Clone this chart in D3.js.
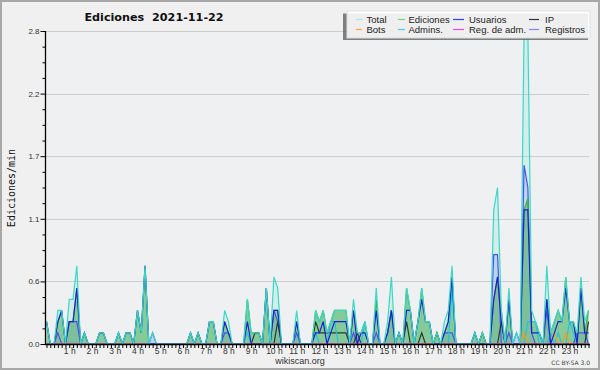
<!DOCTYPE html>
<html><head><meta charset="utf-8">
<script src="https://cdn.jsdelivr.net/npm/d3@7"></script>
<style>html,body{margin:0;padding:0;background:#f0f0f0;}svg{display:block}</style>
</head><body>
<svg id="c" width="600" height="370"></svg>
<script>
// ---- DATA (edits per minute, 10-minute buckets, 6 per hour) ----
const hourLabels = ["1 h","2 h","3 h","4 h","5 h","6 h","7 h","8 h","9 h","10 h","11 h","12 h",
  "13 h","14 h","15 h","16 h","17 h","18 h","19 h","20 h","21 h","22 h","23 h"];
const yTickValues = [0, 0.56, 1.12, 1.68, 2.24, 2.8];
const yTickLabels = ["0.0","0.6","1.1","1.7","2.2","2.8"];
const seriesNames = ["Total","Ediciones","Usuarios","IP","Bots","Admins.","Reg. de adm.","Registros"];

const total = [
  0.2,0,0,0.3,0.3,0,  0.4,0.4,0.7,0,0.1,0,  0,0,0.1,0.1,0,0,  0,0.1,0,0.1,0.1,0,
  0.3,0.1,0.7,0,0.1,0,  0,0,0,0,0,0,  0,0,0.1,0,0.1,0,  0,0.2,0.2,0,0,0.3,
  0.2,0,0,0,0,0.4,  0.1,0.1,0.1,0,0.5,0,  0.6,0.5,0,0,0,0,  0.3,0,0,0,0,0.3,
  0.2,0.3,0.1,0.2,0.3,0.3,  0.3,0.3,0,0.4,0.1,0.1,  0.2,0,0,0.5,0,0,  0.2,0.6,0,0.1,0,0.5,
  0.3,0,0.2,0.5,0.2,0.2,  0,0.1,0,0.2,0.3,0.7,  0,0,0,0,0,0.1,  0,0.1,0,0,1.2,1.4,
  0.3,0,0.5,0,0.1,0,  2.8,2.8,0.3,0.2,0.1,0,  0.7,0.1,0.2,0.3,0.2,0.6,  0.2,0.2,0.1,0.6,0.2,0.3];
const ediciones = [
  0.2,0,0,0.2,0.3,0,  0.2,0.2,0.5,0,0.1,0,  0,0,0.1,0.1,0,0,  0,0.1,0,0.1,0.1,0,
  0.3,0.1,0.7,0,0,0,  0,0,0,0,0,0,  0,0,0.1,0,0.1,0,  0,0.2,0.2,0,0,0.2,
  0.1,0,0,0,0,0.4,  0.1,0.1,0.1,0,0.5,0,  0.3,0.3,0,0,0,0,  0.2,0,0,0,0,0.3,
  0.2,0.3,0.1,0.2,0.3,0.3,  0.3,0.3,0,0.3,0.1,0.1,  0.2,0,0,0.4,0,0,  0.1,0.3,0,0.1,0,0.5,
  0.3,0,0.2,0.5,0.2,0.2,  0,0.1,0,0.1,0.2,0.6,  0,0,0,0,0,0.1,  0,0.1,0,0,0.4,0.6,
  0.3,0,0.4,0,0,0,  1.2,1.3,0.2,0.2,0.1,0,  0.4,0.1,0.2,0.3,0.2,0.6,  0.2,0.2,0,0.5,0.1,0.3];
const usuarios = [
  0.2,0,0,0.2,0.3,0,  0.2,0.2,0.5,0,0.1,0,  0,0,0.1,0.1,0,0,  0,0.1,0,0.1,0.1,0,
  0.3,0.1,0.7,0,0,0,  0,0,0,0,0,0,  0,0,0.1,0,0.1,0,  0,0.2,0.2,0,0,0.2,
  0.1,0,0,0,0,0.2,  0,0,0,0,0.5,0,  0.3,0.3,0,0,0,0,  0.2,0,0,0,0,0.1,
  0.1,0.2,0,0.1,0.2,0.2,  0.2,0.2,0,0.3,0,0.1,  0.1,0,0,0.3,0,0,  0.1,0.3,0,0.1,0,0.3,
  0.3,0,0.2,0.4,0.2,0.2,  0,0,0,0.1,0.2,0.6,  0,0,0,0,0,0.1,  0,0,0,0,0.4,0.6,
  0.2,0,0.4,0,0,0,  1.2,1.2,0.1,0.1,0.1,0,  0.4,0,0.1,0.2,0.2,0.5,  0.2,0.2,0,0.5,0.1,0.1];
const ip = [
  0,0,0,0,0,0,  0,0,0,0,0,0,  0,0,0,0,0,0,  0,0,0,0,0,0,
  0,0,0,0,0,0,  0,0,0,0,0,0,  0,0,0,0,0,0,  0,0,0,0,0,0,
  0,0,0,0,0,0,  0,0.1,0.1,0,0,0,  0,0.2,0,0,0,0,  0,0,0,0,0,0.2,
  0.1,0.1,0.1,0.1,0.1,0.1,  0.1,0.1,0,0,0.1,0,  0,0,0,0,0,0,  0,0,0,0,0,0.2,
  0,0,0,0.1,0,0,  0,0.1,0,0,0,0,  0,0,0,0,0,0,  0,0.1,0,0,0,0,
  0.2,0,0,0,0,0,  0,0,0,0,0,0,  0,0,0,0,0,0,  0,0,0,0,0,0.2];
const bots = [
  0,0,0,0,0,0,  0,0,0,0,0,0,  0,0,0,0,0,0,  0,0,0,0,0,0,
  0,0,0,0,0,0,  0,0,0,0,0,0,  0,0,0,0,0,0,  0,0,0,0,0,0,
  0,0,0,0,0,0,  0,0,0,0,0,0,  0,0,0,0,0,0,  0,0,0,0,0,0,
  0,0,0,0,0,0,  0,0,0,0,0,0,  0,0,0,0,0,0,  0,0,0,0,0,0,
  0,0,0,0,0,0,  0,0,0,0,0,0,  0,0,0,0,0,0,  0,0,0,0,0,0,
  0,0,0,0,0,0,  0.1,0,0,0,0,0,  0,0,0.1,0,0,0.1,  0,0,0,0,0,0];
const admins = [
  0,0,0,0,0,0,  0,0,0,0,0,0,  0,0,0,0,0,0,  0,0,0,0,0,0,
  0,0,0,0,0,0,  0,0,0,0,0,0,  0,0,0,0,0,0,  0,0,0,0,0,0,
  0,0,0,0,0,0.1,  0,0,0,0,0,0,  0,0,0,0,0,0,  0,0,0,0,0,0.1,
  0,0,0,0.2,0.2,0,  0,0,0,0,0,0,  0.2,0,0,0,0,0,  0,0,0,0,0,0,
  0,0,0,0,0,0,  0,0,0,0,0,0.5,  0,0,0,0,0,0,  0,0,0,0,0,0,
  0,0,0,0,0,0,  0,0.2,0.2,0.2,0,0,  0,0.1,0,0.1,0,0,  0.2,0.1,0,0,0,0];
const regAdm = [
  0,0,0,0,0,0,  0,0,0,0,0,0,  0,0,0,0,0,0,  0,0,0,0,0,0,
  0,0,0,0,0,0,  0,0,0,0,0,0,  0,0,0,0,0,0,  0,0,0,0,0,0,
  0,0,0,0,0,0,  0,0,0,0,0,0,  0,0,0,0,0,0,  0,0,0,0,0,0,
  0,0,0,0,0,0,  0,0,0,0,0,0,  0,0,0,0,0,0,  0,0,0,0,0,0,
  0,0,0,0,0,0,  0,0,0,0,0,0,  0,0,0,0,0,0,  0,0,0,0,0,0,
  0,0,0,0,0,0,  0,0,0,0,0,0,  0,0,0,0,0,0,  0,0,0,0,0,0];
const registros = [
  0,0,0,0.1,0,0,  0.2,0.2,0.2,0,0,0,  0,0,0,0,0,0,  0,0,0,0,0,0,
  0,0,0,0,0.1,0,  0,0,0,0,0,0,  0,0,0,0,0,0,  0,0,0,0,0,0.1,
  0.1,0,0,0,0,0,  0,0,0,0,0,0,  0.3,0.2,0,0,0,0,  0.1,0,0,0,0,0,
  0,0,0,0,0,0,  0,0,0,0.1,0,0,  0,0,0,0.1,0,0,  0.1,0.3,0,0,0,0,
  0,0,0,0,0,0,  0,0,0,0.1,0.1,0.1,  0,0,0,0,0,0,  0,0,0,0,0.8,0.8,
  0,0,0.1,0,0.1,0,  1.6,1.4,0.1,0,0,0,  0.3,0,0,0,0,0,  0,0,0.1,0.1,0.1,0];

// ---- STYLES ----
const colors = {
  "Total":"#3cd8c6","Ediciones":"#3db43d","Usuarios":"#1e1ed8","IP":"#2a3a2a",
  "Bots":"#ff9a10","Admins.":"#22c2dc","Reg. de adm.":"#ee22ee","Registros":"#4d4df5"};
const legendColors = {
  "Total":"#9fe8df","Ediciones":"#7fd07f","Usuarios":"#3a3aff","IP":"#333333",
  "Bots":"#ffa733","Admins.":"#3fd0e3","Reg. de adm.":"#ee44ee","Registros":"#8282ff"};

const svg = d3.select("#c");
svg.append("rect").attr("width",600).attr("height",370).attr("fill","#f0f0f0");
svg.append("rect").attr("x",1).attr("y",1).attr("width",598).attr("height",368)
  .attr("fill","none").attr("stroke","#a8a8a8").attr("stroke-width",2);

const L=45, R=589, T=31, B=344;
svg.append("rect").attr("x",L).attr("y",T).attr("width",R-L).attr("height",B-T).attr("fill","#eef0f2");

const x = d3.scaleLinear().domain([0,143]).range([46.5,588.5]);
const y = d3.scaleLinear().domain([0,2.8]).range([B,T]);

// grid
svg.append("g").selectAll("line").data(yTickValues.slice(1)).join("line")
  .attr("x1",L).attr("x2",R).attr("y1",d=>Math.round(y(d))+0.5).attr("y2",d=>Math.round(y(d))+0.5)
  .attr("stroke","#cdcdcd").attr("stroke-width",1);

const area = d3.area().x((d,i)=>x(i)).y0(y(0)).y1(d=>y(d));
const line = d3.line().x((d,i)=>x(i)).y(d=>y(d));
const plot = svg.append("g");

plot.append("path").datum(total).attr("d",area).attr("fill","rgba(90,225,200,0.18)");
plot.append("path").datum(registros).attr("d",area).attr("fill","rgba(120,120,255,0.22)");
plot.append("path").datum(ediciones).attr("d",area).attr("fill","rgba(70,175,85,0.55)");

const lineSeries = [
  ["Registros",registros],["Ediciones",ediciones],["IP",ip],["Admins.",admins],
  ["Bots",bots],["Reg. de adm.",regAdm],["Usuarios",usuarios],["Total",total]];
lineSeries.forEach(([name,data])=>{
  plot.append("path").datum(data).attr("d",line).attr("fill","none")
    .attr("stroke",colors[name]).attr("stroke-width",1.2).attr("stroke-linejoin","miter");
});

// x axis
const xAxis = d3.axisBottom(x).tickValues(d3.range(0,144)).tickSize(4).tickSizeOuter(0).tickPadding(-0.5)
  .tickFormat(t => (t%6===0 && t>0) ? hourLabels[t/6-1] : "");
const gx = svg.append("g").attr("transform",`translate(0,${B})`).call(xAxis);
gx.select(".domain").remove();
gx.selectAll(".tick line").attr("stroke","#000");
gx.selectAll("text").attr("font-family","Liberation Sans, Arial, sans-serif").attr("font-size",8.5).attr("fill","#333");
svg.append("line").attr("x1",L).attr("x2",R+1).attr("y1",B+0.5).attr("y2",B+0.5).attr("stroke","#000").attr("stroke-width",1.3);

// y axis
const minor = d3.range(0,21).map(i=>i*0.14).filter((d,i)=>i%4!==0);
const gyMinor = svg.append("g").attr("transform",`translate(${L+0.5},0)`)
  .call(d3.axisLeft(y).tickValues(minor).tickSize(3).tickFormat(""));
gyMinor.select(".domain").remove();
const gy = svg.append("g").attr("transform",`translate(${L+0.5},0)`)
  .call(d3.axisLeft(y).tickValues(yTickValues).tickSize(5).tickSizeOuter(0).tickPadding(1)
    .tickFormat((d,i)=>yTickLabels[i]));
gy.select(".domain").remove();
gy.selectAll("text").attr("font-family","Liberation Sans, Arial, sans-serif").attr("font-size",8).attr("fill","#333");
svg.append("line").attr("x1",L+0.5).attr("x2",L+0.5).attr("y1",T).attr("y2",B+1).attr("stroke","#000").attr("stroke-width",1.3);

// titles
svg.append("text").attr("x",154).attr("y",20.5).attr("text-anchor","middle")
  .style("white-space","pre")
  .attr("font-family","DejaVu Sans, sans-serif").attr("font-weight","bold").attr("font-size",11.2)
  .attr("fill","#111").text("Ediciones  2021-11-22");
svg.append("text").attr("transform","translate(15,188) rotate(-90)").attr("text-anchor","middle")
  .attr("font-family","DejaVu Sans Mono, monospace").attr("font-size",10).attr("fill","#111").text("Ediciones/min");
svg.append("text").attr("x",300).attr("y",364).attr("text-anchor","middle")
  .attr("font-family","Liberation Sans, Arial, sans-serif").attr("font-size",9).attr("fill","#333").text("wikiscan.org");
svg.append("text").attr("x",590).attr("y",365).attr("text-anchor","end")
  .attr("font-family","DejaVu Sans, sans-serif").attr("font-size",6).attr("fill","#444").text("CC BY-SA 3.0");

// legend
const lg = svg.append("g");
lg.append("rect").attr("x",343).attr("y",13.5).attr("width",245).attr("height",26.5).attr("fill","rgba(90,90,90,0.75)");
lg.append("rect").attr("x",347).attr("y",11).attr("width",243).attr("height",27)
  .attr("fill","rgba(255,255,255,0.88)").attr("stroke","#dddddd");
const colLine = [[356,362],[398,405],[453,464],[529,539]];
const colText = [366.5,408.5,469,545];
seriesNames.forEach((name,i)=>{
  const c = i%4, r = Math.floor(i/4);
  const ly = 19 + r*10;
  lg.append("line").attr("x1",colLine[c][0]).attr("x2",colLine[c][1]).attr("y1",ly+0.5).attr("y2",ly+0.5)
    .attr("stroke",legendColors[name]).attr("stroke-width",1.2);
  lg.append("text").attr("x",colText[c]).attr("y",ly+3.5)
    .attr("font-family","Liberation Sans, Arial, sans-serif").attr("font-size",9.5).attr("fill","#222").text(name);
});
</script>
</body></html>
